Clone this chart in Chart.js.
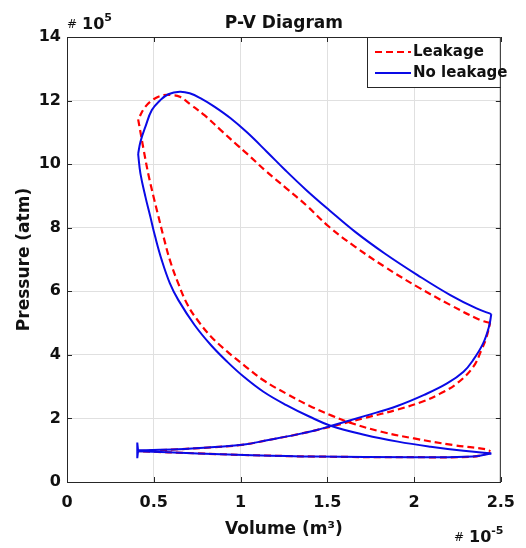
<!DOCTYPE html>
<html>
<head>
<meta charset="utf-8">
<script src="https://cdn.jsdelivr.net/npm/chart.js@4/dist/chart.umd.min.js"></script>
<style>
html,body{margin:0;padding:0;background:#fff;}
canvas{display:block;}
</style>
</head>
<body>
<canvas id="c" width="526" height="548"></canvas>
<script>
// ---- Data (volume in 1e-5 m^3, pressure in 1e5) ----
const chartTitle = "P-V Diagram";
const seriesNames = ["Leakage", "No leakage"];
const xTickLabels = ["0", "0.5", "1", "1.5", "2", "2.5"];
const yTickLabels = ["0", "2", "4", "6", "8", "10", "12", "14"];

// No leakage (blue), traced as four strokes of the loop
const noLeakFlatVolume   = [2.445, 2.34, 2.0, 1.434, 1.019, 0.754, 0.41];
const noLeakFlatPressure = [0.90, 0.80, 0.78, 0.80, 0.85, 0.90, 0.97];
const noLeakTipVolume    = [0.41, 0.405, 0.405, 0.41];
const noLeakTipPressure  = [0.97, 1.24, 0.75, 1.00];
const noLeakCompVolume   = [0.41, 0.641, 0.829, 1.009, 1.169, 1.321, 1.434, 1.519, 1.718, 1.907, 2.058, 2.19, 2.285, 2.341, 2.398, 2.432, 2.445];
const noLeakCompPressure = [1.00, 1.03, 1.09, 1.17, 1.33, 1.49, 1.63, 1.76, 2.08, 2.40, 2.74, 3.10, 3.47, 3.84, 4.36, 4.89, 5.28];
const noLeakUpperVolume   = [2.445, 2.36, 2.209, 2.02, 1.831, 1.661, 1.51, 1.378, 1.26, 1.15, 1.037, 0.941, 0.849, 0.771, 0.707, 0.65, 0.584, 0.537, 0.489, 0.452, 0.423, 0.41];
const noLeakUpperPressure = [5.28, 5.46, 5.88, 6.51, 7.19, 7.87, 8.56, 9.19, 9.80, 10.40, 11.00, 11.45, 11.81, 12.07, 12.23, 12.28, 12.20, 12.01, 11.70, 11.18, 10.70, 10.32];
const noLeakExpVolume   = [0.41, 0.423, 0.452, 0.48, 0.508, 0.546, 0.593, 0.641, 0.735, 0.829, 0.924, 1.019, 1.132, 1.264, 1.396, 1.519, 1.718, 1.907, 2.096, 2.285, 2.445];
const noLeakExpPressure = [10.32, 9.71, 8.97, 8.35, 7.72, 6.98, 6.25, 5.73, 4.94, 4.31, 3.78, 3.31, 2.84, 2.42, 2.06, 1.77, 1.48, 1.27, 1.11, 0.98, 0.90];

// Leakage (red dashed)
const leakFlatVolume   = [2.44, 2.34, 2.0, 1.434, 1.019, 0.754, 0.41];
const leakFlatPressure = [0.92, 0.80, 0.78, 0.80, 0.85, 0.90, 0.97];
const leakCompVolume   = [0.41, 0.641, 0.829, 1.009, 1.169, 1.321, 1.519, 1.718, 1.907, 2.058, 2.15, 2.247, 2.341, 2.388, 2.417, 2.438];
const leakCompPressure = [0.97, 1.03, 1.09, 1.17, 1.33, 1.49, 1.74, 2.02, 2.28, 2.55, 2.78, 3.10, 3.62, 4.15, 4.55, 5.00];
const leakUpperVolume   = [2.438, 2.379, 2.209, 2.02, 1.831, 1.661, 1.51, 1.378, 1.264, 1.151, 1.037, 0.981, 0.886, 0.792, 0.716, 0.65, 0.603, 0.556, 0.499, 0.452, 0.41];
const leakUpperPressure = [5.00, 5.10, 5.57, 6.14, 6.77, 7.40, 8.03, 8.71, 9.24, 9.76, 10.33, 10.60, 11.07, 11.54, 11.86, 12.12, 12.17, 12.17, 12.04, 11.81, 11.41];
const leakExpVolume   = [0.41, 0.423, 0.442, 0.47, 0.499, 0.527, 0.556, 0.593, 0.641, 0.697, 0.754, 0.829, 0.924, 1.019, 1.132, 1.264, 1.396, 1.529, 1.623, 1.812, 2.0, 2.228, 2.417, 2.44];
const leakExpPressure = [11.41, 11.02, 10.44, 9.65, 8.97, 8.35, 7.72, 6.98, 6.25, 5.55, 5.08, 4.58, 4.10, 3.68, 3.20, 2.78, 2.40, 2.08, 1.88, 1.58, 1.37, 1.16, 1.03, 0.97];

const toPoints = (xs, ys) => xs.map((x, i) => ({x: x, y: ys[i]}));

const FONT = "'DejaVu Sans', 'Liberation Sans', Arial, sans-serif";
const AXIS_COLOR = '#262626';
const BLUE = '#0a0ae6';
const RED = '#ff0000';
const RED_DASH = [7, 4];

function blueSet(xs, ys, tension) {
  return {label: seriesNames[1], data: toPoints(xs, ys), showLine: true, borderColor: BLUE,
    borderWidth: 2, pointRadius: 0, tension: tension, fill: false, order: 0};
}
function redSet(xs, ys) {
  return {label: seriesNames[0], data: toPoints(xs, ys), showLine: true, borderColor: RED,
    borderWidth: 2.2, borderDash: RED_DASH, pointRadius: 0, tension: 0.4, fill: false, order: 1};
}

const decorPlugin = {
  id: 'decor',
  afterDraw(chart) {
    const ctx = chart.ctx;
    const a = chart.chartArea;
    const xs = chart.scales.x, ys = chart.scales.y;
    ctx.save();
    ctx.strokeStyle = AXIS_COLOR;
    ctx.lineWidth = 1;
    ctx.beginPath();
    ctx.moveTo(a.left, a.top + 0.5); ctx.lineTo(a.right, a.top + 0.5);
    ctx.moveTo(a.right - 0.5, a.top); ctx.lineTo(a.right - 0.5, a.bottom);
    ctx.stroke();
    ctx.beginPath();
    xs.ticks.forEach(t => {
      const px = Math.round(xs.getPixelForValue(t.value)) + 0.5;
      ctx.moveTo(px, a.bottom); ctx.lineTo(px, a.bottom - 5);
      ctx.moveTo(px, a.top); ctx.lineTo(px, a.top + 5);
    });
    ys.ticks.forEach(t => {
      const py = Math.round(ys.getPixelForValue(t.value)) + 0.5;
      ctx.moveTo(a.left, py); ctx.lineTo(a.left + 5, py);
      ctx.moveTo(a.right, py); ctx.lineTo(a.right - 5, py);
    });
    ctx.stroke();

    ctx.fillStyle = '#111';
    ctx.textAlign = 'center';
    ctx.textBaseline = 'alphabetic';
    ctx.font = "bold 17px " + FONT;
    ctx.fillText(chartTitle, (a.left + a.right) / 2, 28);

    function expLabel(x, base, sup) {
      ctx.textAlign = 'left';
      ctx.textBaseline = 'alphabetic';
      ctx.font = "12px " + FONT;
      ctx.fillText('#', x, base - 1);
      ctx.font = "bold 16px " + FONT;
      ctx.fillText('10', x + 15, base);
      const w = ctx.measureText('10').width;
      ctx.font = "bold 11px " + FONT;
      ctx.fillText(sup, x + 15 + w, base - 8);
    }
    expLabel(a.left, 29, '5');
    expLabel(454, 542, '-5');

    const lx = 367, ly = a.top, lw = a.right - lx, lh = 50;
    ctx.fillStyle = '#fff';
    ctx.fillRect(lx, ly, lw, lh);
    ctx.strokeStyle = AXIS_COLOR;
    ctx.lineWidth = 1;
    ctx.strokeRect(lx + 0.5, ly + 0.5, lw - 1, lh);
    const rows = [
      {y: 52, color: RED, dash: RED_DASH, width: 2.2, label: seriesNames[0]},
      {y: 73, color: BLUE, dash: [], width: 2, label: seriesNames[1]}
    ];
    rows.forEach(r => {
      ctx.beginPath();
      ctx.setLineDash(r.dash);
      ctx.strokeStyle = r.color;
      ctx.lineWidth = r.width;
      ctx.moveTo(375, r.y); ctx.lineTo(411, r.y);
      ctx.stroke();
      ctx.setLineDash([]);
      ctx.fillStyle = '#111';
      ctx.font = "bold 15px " + FONT;
      ctx.textAlign = 'left';
      ctx.textBaseline = 'middle';
      ctx.fillText(r.label, 413, r.y);
    });
    ctx.restore();
  }
};

new Chart(document.getElementById('c'), {
  type: 'scatter',
  data: {
    datasets: [
      redSet(leakFlatVolume, leakFlatPressure),
      redSet(leakCompVolume, leakCompPressure),
      redSet(leakUpperVolume, leakUpperPressure),
      redSet(leakExpVolume, leakExpPressure),
      blueSet(noLeakFlatVolume, noLeakFlatPressure, 0.4),
      blueSet(noLeakTipVolume, noLeakTipPressure, 0),
      blueSet(noLeakCompVolume, noLeakCompPressure, 0.4),
      blueSet(noLeakUpperVolume, noLeakUpperPressure, 0.4),
      blueSet(noLeakExpVolume, noLeakExpPressure, 0.4)
    ]
  },
  options: {
    responsive: false,
    animation: false,
    layout: {padding: {top: 37, right: 17, left: 0, bottom: 0}},
    plugins: {legend: {display: false}, tooltip: {enabled: false}, title: {display: false}},
    scales: {
      x: {
        type: 'linear', min: 0, max: 2.5,
        afterFit: s => { s.height = 66; },
        ticks: {
          stepSize: 0.5, padding: 11, color: '#111',
          font: {family: FONT, weight: 'bold', size: 16},
          callback: (v, i) => xTickLabels[i]
        },
        grid: {color: '#e0e0e0', drawTicks: false, lineWidth: 1},
        border: {color: AXIS_COLOR, width: 1},
        title: {display: true, text: 'Volume (m³)', color: '#111',
          font: {family: FONT, weight: 'bold', size: 17}, padding: {top: 0, bottom: 8}}
      },
      y: {
        type: 'linear', min: 0, max: 14,
        afterFit: s => { s.width = 67; },
        ticks: {
          stepSize: 2, padding: 6, color: '#111',
          font: {family: FONT, weight: 'bold', size: 16},
          callback: (v, i) => yTickLabels[i]
        },
        grid: {color: '#e0e0e0', drawTicks: false, lineWidth: 1},
        border: {color: AXIS_COLOR, width: 1},
        title: {display: true, text: 'Pressure (atm)', color: '#111',
          font: {family: FONT, weight: 'bold', size: 17}, padding: {top: 14, bottom: 0}}
      }
    }
  },
  plugins: [decorPlugin]
});
</script>
</body>
</html>
